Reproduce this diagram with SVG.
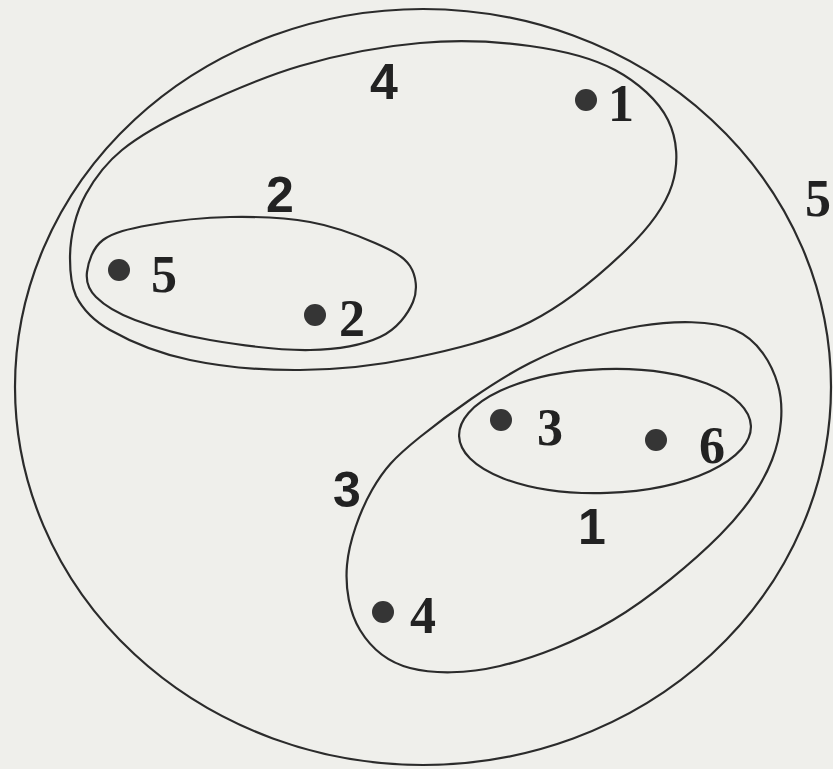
<svg xmlns="http://www.w3.org/2000/svg" width="833" height="769" viewBox="0 0 833 769">
<style>
.bg{fill:#efefeb}
.hull{fill:none;stroke:#2b2b2b;stroke-width:2.2}
.pt{fill:#353535}
.num{font-family:"Liberation Serif","Times New Roman",serif;font-weight:bold;font-size:52px;fill:#222;text-anchor:middle}
.cl{font-family:"Liberation Sans",Arial,sans-serif;font-weight:bold;font-size:50px;fill:#222;text-anchor:middle}
</style>
<rect class="bg" x="0" y="0" width="833" height="769"/>

<g id="cluster5">
  <ellipse class="hull" cx="423" cy="387" rx="408" ry="378"/>
  <text class="num" x="818" y="216">5</text>
</g>

<g id="cluster4">
  <path class="hull" d="M70 258 C70 236 76 212 86 194 C96 176 106 163 122 150 C138 137 160 124 190 110 C220 96 261.7 77.2 300 66 C338.3 54.8 381.7 46.3 420 43 C458.3 39.7 497.5 41.5 530 46 C562.5 50.5 592 57.7 615 70 C638 82.3 658.5 100.8 668 120 C677.5 139.2 679 163.3 672 185 C665 206.7 649.7 227.2 626 250 C602.3 272.8 565.5 304 530 322 C494.5 340 451.3 350 413 358 C374.7 366 337.2 369.7 300 370 C262.8 370.3 221.7 366.7 190 360 C158.3 353.3 129 340.8 110 330 C91 319.2 82 308 76 296 C71 285 70 272 70 258 Z"/>
  <text class="cl" x="384" y="99">4</text>
</g>

<g id="cluster2">
  <path class="hull" d="M87 272 C88.2 262.5 92.5 247.8 103 240 C113.5 232.2 128.8 228.8 150 225 C171.2 221.2 203.3 217.5 230 217 C256.7 216.5 285.8 217.7 310 222 C334.2 226.3 358.3 235.7 375 243 C391.7 250.3 403.7 256.2 410 266 C416.3 275.8 418 290.2 413 302 C408 313.8 397.2 329 380 337 C362.8 345 338.3 349.5 310 350 C281.7 350.5 239.2 345 210 340 C180.8 335 154 327.2 135 320 C116 312.8 104 305 96 297 C88 289 85.8 281.5 87 272 Z"/>
  <text class="cl" x="280" y="212">2</text>
</g>

<g id="cluster3">
  <path class="hull" d="M347 565 C349 541.7 359.8 511.3 372 490 C384.2 468.7 393.7 458.2 420 437 C446.3 415.8 493.3 381.5 530 363 C566.7 344.5 605.8 331.5 640 326 C674.2 320.5 712 320.2 735 330 C758 339.8 771.8 363.3 778 385 C784.2 406.7 781.7 435 772 460 C762.3 485 746.5 508.3 720 535 C693.5 561.7 649.7 598.2 613 620 C576.3 641.8 533.8 658 500 666 C466.2 674 433.3 674 410 668 C386.7 662 370.5 647.2 360 630 C349.5 612.8 345 588.3 347 565 Z"/>
  <text class="cl" x="347" y="507">3</text>
</g>

<g id="cluster1">
  <ellipse class="hull" cx="605" cy="431" rx="146" ry="62" transform="rotate(-2 605 431)"/>
  <text class="cl" x="592" y="544">1</text>
</g>

<g id="point1">
  <circle class="pt" cx="586" cy="100" r="11"/>
  <text class="num" x="621" y="121">1</text>
</g>
<g id="point5">
  <circle class="pt" cx="119" cy="270" r="11"/>
  <text class="num" x="164" y="292">5</text>
</g>
<g id="point2">
  <circle class="pt" cx="315" cy="315" r="11"/>
  <text class="num" x="352" y="336">2</text>
</g>
<g id="point3">
  <circle class="pt" cx="501" cy="420" r="11"/>
  <text class="num" x="550" y="445">3</text>
</g>
<g id="point6">
  <circle class="pt" cx="656" cy="440" r="11"/>
  <text class="num" x="712" y="463">6</text>
</g>
<g id="point4">
  <circle class="pt" cx="383" cy="612" r="11"/>
  <text class="num" x="423" y="633">4</text>
</g>
</svg>
